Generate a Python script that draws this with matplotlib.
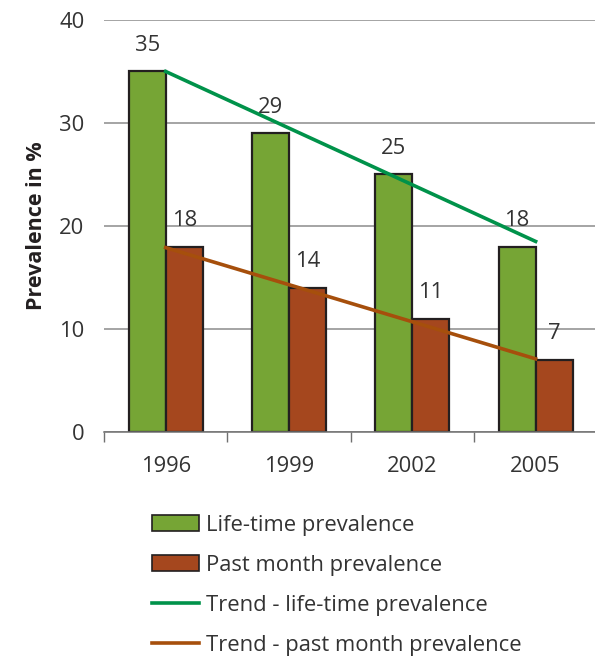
import numpy as np
import matplotlib
matplotlib.use("Agg")
import matplotlib.pyplot as plt
from matplotlib.patches import Patch
from matplotlib.lines import Line2D

years = ["1996", "1999", "2002", "2005"]
life_time = [35, 29, 25, 18]
past_month = [18, 14, 11, 7]
# trend line end points (first and last year)
trend_life = [35.0, 18.5]
trend_past = [17.9, 7.1]

green = "#76a535"
red = "#a5471e"
trend_green = "#00924a"
trend_brown = "#a64f0c"
edge = "#231f20"
txt = "#333333"
fs = 15.8

plt.rcParams['font.family'] = ['Open Sans', 'DejaVu Sans']

fig = plt.figure(figsize=(5.95, 6.57), dpi=100)
ax = fig.add_axes([0.1748, 0.3425, 0.829, 0.6271])

x = np.arange(len(years))
w = 0.3
ax.bar(x - w / 2, life_time, w, color=green, edgecolor=edge, linewidth=1.6, zorder=2)
ax.bar(x + w / 2, past_month, w, color=red, edgecolor=edge, linewidth=1.6, zorder=2)

ax.plot([x[0], x[-1]], trend_life, color=trend_green, lw=2.6, zorder=3)
ax.plot([x[0], x[-1]], trend_past, color=trend_brown, lw=2.6, zorder=3)

for i in range(len(years)):
    ax.text(x[i] - w / 2, life_time[i] + 1.5, str(life_time[i]), ha="center", va="bottom",
            fontsize=fs, color=txt)
    ax.text(x[i] + w / 2, past_month[i] + 1.5, str(past_month[i]), ha="center", va="bottom",
            fontsize=fs, color=txt)

ax.set_xlim(-0.5, 3.5)
ax.set_ylim(0, 40)
ax.set_yticks([0, 10, 20, 30, 40])
ax.yaxis.grid(True, color="#8c8c8c", lw=1.1, zorder=0)
ax.set_axisbelow(True)
for s in ["left", "right", "top"]:
    ax.spines[s].set_visible(False)
ax.spines["bottom"].set_color("#707070")
ax.spines["bottom"].set_linewidth(1.1)

ax.set_xticks(x)
ax.set_xticklabels(years)
ax.set_xticks([-0.5, 0.5, 1.5, 2.5], minor=True)
ax.tick_params(axis="x", which="major", length=0, pad=17, labelsize=fs, colors=txt)
ax.tick_params(axis="x", which="minor", length=7, width=1, color="#707070", direction="out")
ax.tick_params(axis="y", length=0, pad=14, labelsize=fs, colors=txt)
ax.set_ylabel("Prevalence in %", fontsize=15.5, fontweight="bold", color=edge, labelpad=9)

handles = [
    Patch(facecolor=green, edgecolor=edge, linewidth=1.2),
    Patch(facecolor=red, edgecolor=edge, linewidth=1.2),
    Line2D([], [], color=trend_green, lw=2.6),
    Line2D([], [], color=trend_brown, lw=2.6),
]
labels = ["Life-time prevalence", "Past month prevalence",
          "Trend - life-time prevalence", "Trend - past month prevalence"]
leg = fig.legend(handles, labels, loc="upper left", bbox_to_anchor=(0.2555, 0.216),
                 frameon=False, fontsize=fs, handlelength=2.15, handleheight=0.75,
                 handletextpad=0.3, labelspacing=0.86, borderpad=0, borderaxespad=0)
for t in leg.get_texts():
    t.set_color(txt)

fig.savefig("out.png", dpi=100)
